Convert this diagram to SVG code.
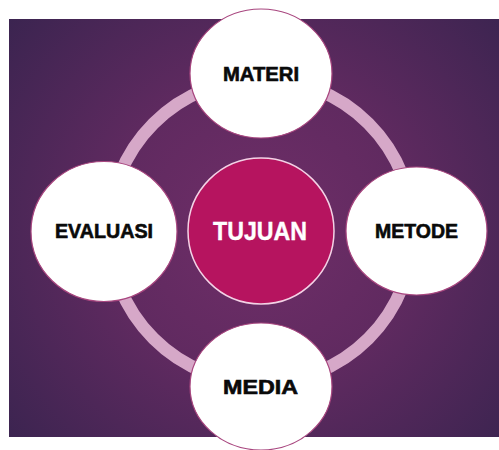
<svg xmlns="http://www.w3.org/2000/svg" width="499" height="450" viewBox="0 0 499 450">
  <defs>
    <radialGradient id="bg" cx="261" cy="231" r="330" gradientUnits="userSpaceOnUse">
      <stop offset="0" stop-color="#702e68"/>
      <stop offset="0.45" stop-color="#602a60"/>
      <stop offset="1" stop-color="#3b2450"/>
    </radialGradient>
  </defs>
  <style>
    .node { fill: #ffffff; stroke: #a8467f; stroke-width: 1.2; }
    .core { fill: #b6145f; stroke: #f4d2e6; stroke-width: 1.5; }
    .label { font-family: "Liberation Sans", Arial, sans-serif; font-weight: bold; font-size: 19.5px; fill: #0a0a0a; stroke: #0a0a0a; stroke-width: 0.6; text-anchor: middle; }
    .core-label { font-family: "Liberation Sans", Arial, sans-serif; font-weight: bold; font-size: 26px; fill: #ffffff; stroke: #ffffff; stroke-width: 0.4; text-anchor: middle; }
    .ring { fill: none; stroke: #d6a8c8; stroke-width: 12.5; }
  </style>

  <!-- backdrop panel -->
  <rect x="9" y="19" width="490" height="418" fill="url(#bg)"/>

  <!-- connecting ring -->
  <g id="connectors">
    <circle class="ring" cx="261" cy="231" r="152"/>
  </g>

  <g id="tujuan">
    <circle class="core" cx="261" cy="231" r="73"/>
    <text class="core-label" x="260" y="240" textLength="94" lengthAdjust="spacingAndGlyphs">TUJUAN</text>
  </g>

  <g id="materi">
    <ellipse class="node" cx="261" cy="73.5" rx="71" ry="64.5"/>
    <text class="label" x="261" y="81" textLength="76" lengthAdjust="spacingAndGlyphs">MATERI</text>
  </g>

  <g id="metode">
    <ellipse class="node" cx="416.5" cy="231" rx="70.5" ry="64"/>
    <text class="label" x="416.5" y="237.5" textLength="83" lengthAdjust="spacingAndGlyphs">METODE</text>
  </g>

  <g id="media">
    <ellipse class="node" cx="261" cy="386.5" rx="71" ry="63.5"/>
    <text class="label" x="260.5" y="394" textLength="75" lengthAdjust="spacingAndGlyphs">MEDIA</text>
  </g>

  <g id="evaluasi">
    <ellipse class="node" cx="104" cy="231.5" rx="73" ry="70"/>
    <text class="label" x="104" y="237.5" textLength="98" lengthAdjust="spacingAndGlyphs">EVALUASI</text>
  </g>
</svg>
